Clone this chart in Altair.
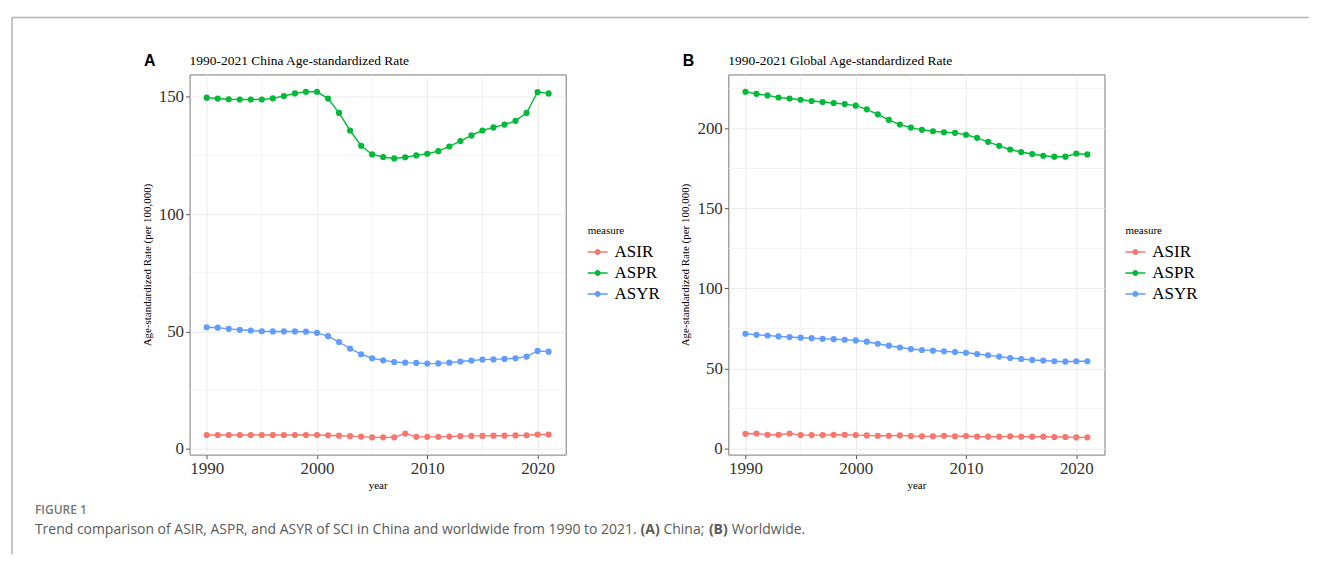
import altair as alt
import pandas as pd

years = list(range(1990, 2022))
measures = ["ASIR", "ASPR", "ASYR"]
colors = ["#F8766D", "#00BA38", "#619CFF"]

china_asir = [5.9, 5.9, 5.9, 5.9, 5.9, 5.9, 5.9, 5.9, 5.9, 5.9, 5.9,
              5.8, 5.6, 5.4, 5.2, 4.9, 4.9, 4.9, 6.5, 5.1, 5.1, 5.1, 5.2, 5.4, 5.5, 5.5,
              5.6, 5.6, 5.7, 5.8, 6.1, 6.1]
china_aspr = [149.6, 149.2, 148.9, 148.8, 148.8, 148.8, 149.3, 150.3, 151.4, 152.1, 152.1,
              149.2, 143.1, 135.6, 129.1, 125.4, 124.3, 123.7, 124.2, 125.0, 125.7, 126.8,
              128.8, 131.1, 133.5, 135.6, 136.9, 138.1, 139.7, 143.1, 152.0, 151.4]
china_asyr = [51.8, 51.6, 51.1, 50.7, 50.4, 50.1, 50.0, 50.0, 50.0, 49.9, 49.4,
              48.0, 45.5, 42.7, 40.3, 38.6, 37.7, 37.0, 36.7, 36.6, 36.3, 36.4, 36.7,
              37.2, 37.6, 38.0, 38.1, 38.3, 38.6, 39.3, 41.7, 41.4]

global_asir = [9.1, 9.3, 8.5, 8.5, 9.3, 8.3, 8.3, 8.3, 8.5, 8.5, 8.3,
               8.1, 7.9, 7.9, 8.1, 7.7, 7.5, 7.5, 7.9, 7.5, 7.7, 7.3, 7.3, 7.3, 7.5,
               7.3, 7.3, 7.3, 7.1, 7.1, 6.9, 6.9]
global_aspr = [223.0, 221.7, 220.7, 219.4, 218.8, 218.0, 217.2, 216.6, 216.0, 215.3, 214.3,
               212.0, 208.9, 205.4, 202.5, 200.6, 199.2, 198.3, 197.7, 197.3, 196.1, 194.2,
               191.7, 189.2, 186.9, 185.3, 184.1, 183.0, 182.4, 182.4, 184.4, 183.8]
global_asyr = [71.7, 71.0, 70.6, 70.0, 69.6, 69.2, 68.9, 68.5, 68.3, 67.9, 67.5,
               66.7, 65.4, 64.2, 63.1, 62.1, 61.5, 61.1, 60.7, 60.2, 59.8, 59.0, 58.2,
               57.4, 56.5, 55.9, 55.3, 54.9, 54.5, 54.2, 54.5, 54.5]

x_ticks = [1990, 2000, 2010, 2020]
x_minor = [1995, 2005, 2015]
china_yticks = [0, 50, 100, 150]
china_yminor = [25, 75, 125]
global_yticks = [0, 50, 100, 150, 200]
global_yminor = [25, 75, 125, 175, 225]

title_a = "1990-2021 China Age-standardized Rate"
title_b = "1990-2021 Global Age-standardized Rate"
y_title = "Age-standardized Rate (per 100,000)"
fig_label = "FIGURE 1"
caption_parts = ["Trend comparison of ASIR, ASPR, and ASYR of SCI in China and worldwide from 1990 to 2021.",
                 "(A)", "China;", "(B)", "Worldwide."]

SERIF = "Liberation Serif"
legend_path = ("M-1,-0.075H1V0.075H-1Z "
               "M0.3,0A0.3,0.3,0,1,1,-0.3,0A0.3,0.3,0,1,1,0.3,0Z")


def long_df(asir, aspr, asyr):
    rows = []
    for m, vals in zip(measures, [asir, aspr, asyr]):
        for y, v in zip(years, vals):
            rows.append({"year": y, "measure": m, "value": v})
    return pd.DataFrame(rows)


def expand(lo, hi, f=0.05):
    r = hi - lo
    return [lo - r * f, hi + r * f]


def panel(df, title, letter, yticks, yminor, legend_x, extras=None):
    ydom = expand(df["value"].min(), df["value"].max())
    xdom = expand(min(years), max(years))
    xs = alt.Scale(domain=xdom, nice=False, zero=False)
    ys = alt.Scale(domain=ydom, nice=False, zero=False)
    color_scale = alt.Scale(domain=measures, range=colors)
    legend = alt.Legend(title="measure", orient="none",
                        legendX=legend_x, legendY=151,
                        symbolType=legend_path, symbolSize=400,
                        symbolStrokeWidth=0, symbolOpacity=1,
                        labelOffset=7, rowPadding=3, titlePadding=6)

    minor_x = alt.Chart(pd.DataFrame({"v": x_minor})).mark_rule(
        color="#EBEBEB", strokeWidth=0.6).encode(x=alt.X("v:Q", scale=xs))
    minor_y = alt.Chart(pd.DataFrame({"v": yminor})).mark_rule(
        color="#EBEBEB", strokeWidth=0.6).encode(y=alt.Y("v:Q", scale=ys))

    base = alt.Chart(df)
    x_enc = alt.X("year:Q", scale=xs, title="year",
                  axis=alt.Axis(values=x_ticks, format="d", grid=True, titlePadding=3))
    y_enc = alt.Y("value:Q", scale=ys, title=y_title,
                  axis=alt.Axis(values=yticks, grid=True, titlePadding=6))
    lines = base.mark_line(strokeWidth=1.4).encode(
        x=x_enc, y=y_enc,
        color=alt.Color("measure:N", scale=color_scale, legend=legend))
    points = base.mark_point(filled=True, size=38, opacity=1).encode(
        x=x_enc, y=y_enc,
        color=alt.Color("measure:N", scale=color_scale, legend=legend))

    letter_mark = alt.Chart(pd.DataFrame({"t": [letter]})).mark_text(
        font="Liberation Sans", fontWeight="bold", fontSize=16, color="black",
        align="center", baseline="middle").encode(
        text="t:N", x=alt.value(-40), y=alt.value(-13))
    title_mark = alt.Chart(pd.DataFrame({"t": [title]})).mark_text(
        font=SERIF, fontSize=13.5, color="black",
        align="left", baseline="alphabetic").encode(
        text="t:N", x=alt.value(0), y=alt.value(-10))

    layers = [minor_x, minor_y, lines, points, letter_mark, title_mark]
    if extras:
        layers += extras
    return alt.layer(*layers).properties(width=377, height=381)


one = pd.DataFrame({"a": [0]})
frame_top = alt.Chart(one).mark_rule(color="#B4B4B4", strokeWidth=1.5).encode(
    x=alt.value(-178), x2=alt.value(1122), y=alt.value(-57))
frame_left = alt.Chart(one).mark_rule(color="#B4B4B4", strokeWidth=1.5).encode(
    x=alt.value(-178), y=alt.value(-57), y2=alt.value(481))
fig_mark = alt.Chart(pd.DataFrame({"t": [fig_label]})).mark_text(
    font="Open Sans", fontWeight=600, fontSize=12, color="#777777",
    align="left", baseline="middle").encode(
    text="t:N", x=alt.value(-155), y=alt.value(437))

cap_x = [-155, 452, 475, 520.5, 543.5]
cap_bold = [False, True, False, True, False]
cap_marks = []
for part, cx, b in zip(caption_parts, cap_x, cap_bold):
    cap_marks.append(alt.Chart(pd.DataFrame({"t": [part]})).mark_text(
        font="Open Sans", fontWeight="bold" if b else "normal", fontSize=14,
        color="#5A5A5A", align="left", baseline="middle").encode(
        text="t:N", x=alt.value(cx), y=alt.value(457)))

left = panel(long_df(china_asir, china_aspr, china_asyr), title_a, "A",
             china_yticks, china_yminor, 399,
             extras=[frame_top, frame_left, fig_mark] + cap_marks)
right = panel(long_df(global_asir, global_aspr, global_asyr), title_b, "B",
              global_yticks, global_yminor, 398)

chart = alt.hconcat(left, right, spacing=163, bounds="flush").resolve_scale(
    x="independent", y="independent", color="independent"
).resolve_legend(color="independent").properties(
    padding={"left": 2, "top": 7, "right": 0, "bottom": 0}
).configure_view(stroke="#777777", strokeWidth=1).configure_axis(
    domain=False, labelFont=SERIF, labelFontSize=17, labelColor="#333333",
    tickColor="#555555", tickSize=4, labelPadding=2, gridColor="#EBEBEB",
    gridWidth=1, titleFont=SERIF, titleFontSize=11, titleFontWeight="normal",
    titleColor="black"
).configure_legend(
    titleFont=SERIF, titleFontSize=11, titleFontWeight="normal", titleColor="black",
    labelFont=SERIF, labelFontSize=17, labelColor="black"
)

chart.save("out.html", embed_options={"renderer": "svg", "actions": False})
